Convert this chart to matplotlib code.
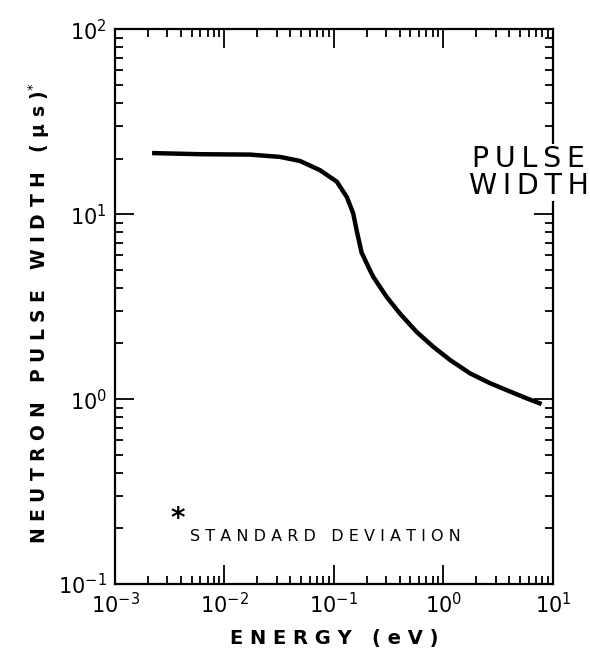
import numpy as np
import matplotlib
matplotlib.use("Agg")
import matplotlib.pyplot as plt
from matplotlib.ticker import LogLocator, NullFormatter

# pulse width curve (energy in eV, width in microseconds)
energy = [0.00218, 0.006, 0.0171, 0.0322, 0.0489, 0.0745, 0.106, 0.131, 0.150,
          0.161, 0.179, 0.213, 0.229, 0.303, 0.401, 0.569, 0.807, 1.146, 1.745,
          2.66, 4.05, 5.75, 7.89]
width = [21.4, 21.1, 21.0, 20.4, 19.4, 17.3, 15.0, 12.4, 10.1,
         8.2, 6.2, 4.98, 4.58, 3.57, 2.90, 2.31, 1.92, 1.63, 1.38,
         1.22, 1.10, 1.01, 0.94]

fig = plt.figure(figsize=(5.9, 6.5), dpi=100)
ax = fig.add_axes([0.195, 0.1015, 0.742, 0.8535])

ax.plot(energy, width, color="black", linewidth=3.2, solid_capstyle="butt",
        solid_joinstyle="round")

ax.set_xscale("log")
ax.set_yscale("log")
ax.set_xlim(1e-3, 1e1)
ax.set_ylim(1e-1, 1e2)

ax.xaxis.set_major_locator(LogLocator(base=10, numticks=10))
ax.xaxis.set_minor_locator(LogLocator(base=10, subs=np.arange(2, 10), numticks=10))
ax.yaxis.set_minor_locator(LogLocator(base=10, subs=np.arange(2, 10), numticks=10))
ax.xaxis.set_minor_formatter(NullFormatter())
ax.yaxis.set_minor_formatter(NullFormatter())

for s in ax.spines.values():
    s.set_linewidth(1.6)

ax.tick_params(which="both", direction="in", top=True, right=True, width=1.3)
ax.tick_params(which="major", length=14, labelsize=15, pad=6)
ax.tick_params(which="minor", length=6)

ax.set_xlabel("E N E R G Y   ( e V )", fontsize=14, fontweight="bold", labelpad=8)
fig.text(0.066, 0.518, "N E U T R O N   P U L S E   W I D T H   ( μ s )$^{*}$",
         rotation=90, fontsize=13.5, fontweight="bold", ha="center", va="center")

ax.text(0.945, 0.742, "P\u2009U\u2009L\u2009S\u2009E\nW\u2009I\u2009D\u2009T\u2009H",
        transform=ax.transAxes, fontsize=20.5, ha="center", va="center",
        linespacing=0.95, bbox=dict(facecolor="white", edgecolor="none", pad=1))

ax.text(0.144, 0.117, "*", transform=ax.transAxes, fontsize=20, fontweight="bold",
        ha="center", va="center")
ax.text(0.171, 0.085, "S T A N D A R D   D E V I A T I O N", transform=ax.transAxes,
        fontsize=11.5, ha="left", va="center")

fig.savefig("out.png", dpi=100)
